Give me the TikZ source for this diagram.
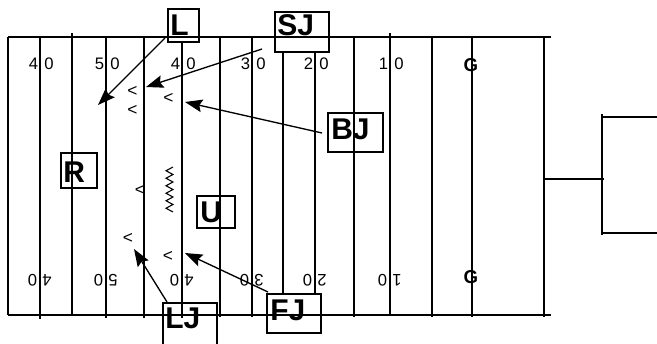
\documentclass[tikz,border=0pt]{standalone}
\usepackage{fontspec}
\setmainfont{Liberation Sans}
\usetikzlibrary{arrows.meta,fit}
\begin{document}
\begin{tikzpicture}[x=0.75pt,y=-0.75pt,
  field/.style={line width=1.35pt},
  thinline/.style={line width=0.8pt},
  lbox/.style={draw, line width=1.1pt, inner sep=0pt},
  lboxw/.style={lbox, fill=white},
  ltext/.style={font=\bfseries\fontsize{22.5}{22.5}\selectfont, inner sep=0pt, anchor=base west},
  yard/.style={font=\fontsize{12.5}{12.5}\selectfont, inner sep=0pt},
  goal/.style={font=\bfseries\fontsize{14}{14}\selectfont, inner sep=0pt},
  chev/.style={font=\fontsize{13}{13}\selectfont, inner sep=0pt},
  pointer/.style={line width=1pt, -{Stealth[length=13pt,width=9.5pt,inset=2pt]}},
]
\useasboundingbox (0,0) rectangle (657,343);

% yard lines (x / top / bottom)
\foreach \x/\t/\b in {8/37/315, 40/37/319, 72/33/315, 106/37/318, 144/37/318,
                      182/37/318, 220/37/317, 252/37/317, 283/37/293, 354/37/317,
                      390/33/315, 432/37/317, 472/37/317, 544/37/317}
  \draw[field] (\x,\t) -- (\x,\b);

% player boxes
\node[lboxw, fit={(168,9) (199,42)}]   (Lbox)  {};
\node[lboxw, fit={(275,12) (329,52)}]  (SJbox) {};
\node[lbox,  fit={(328,113) (383,152)}] (BJbox) {};
\node[lbox,  fit={(61,153) (97,188)}]  (Rbox)  {};
\node[lbox,  fit={(197,196) (235,228)}] (Ubox) {};
\node[lbox,  fit={(163,303) (217,352)}] (LJbox) {};
\node[lboxw, fit={(267,294) (321,333)}] (FJbox) {};

\node[ltext] (Lt)  at (170,35)  {L};
\node[ltext] (SJt) at (277,35)  {SJ};
\node[ltext] (BJt) at (331,139) {BJ};
\node[ltext] (Rt)  at (63,182)  {R};
\node[ltext] (Ut)  at (200,222) {U};
\node[ltext] (LJt) at (165,328) {LJ};
\node[ltext] (FJt) at (270,320) {FJ};

% sidelines
\draw[field] (8,37) -- (551,37);
\draw[field] (8,315) -- (551,315);

% link between SJ and FJ
\coordinate (linkx) at (315,0);
\draw[thinline] (SJbox.south -| linkx) -- (FJbox.north -| linkx);

% yard numbers
\foreach \x/\a in {40/4, 106/5, 182/4, 252/3, 315/2, 390/1} {
  \node[yard, anchor=east] (nt\x a) at (\x-1.5,63.5) {\a};
  \node[yard, anchor=west] (nt\x b) at (\x+4,63.5) {0};
  \node[yard, rotate=180, anchor=west] (nb\x b) at (\x-2.5,280.5) {0};
  \node[yard, rotate=180, anchor=east] (nb\x a) at (\x+2,280.5) {\a};
}
\node[goal] (gt) at (471,65)  {G};
\node[goal] (gb) at (471,277) {G};

% defenders
\node[chev] (c1) at (132.5,91)  {<};
\node[chev] (c2) at (132.5,110.5) {<};
\node[chev] (c3) at (168.5,98)  {<};
\node[chev] (c4) at (140,190)   {<};
\node[chev] (c5) at (128,238)   {<};
\node[chev] (c6) at (168,256)   {<};

% zigzag
\draw[thinline, line join=miter]
  (173,167) -- (166,170.75) -- (173,174.5) -- (166,178.25) -- (173,182)
  -- (166,185.75) -- (173,189.5) -- (166,193.25) -- (173,197)
  -- (166,200.75) -- (173,204.5) -- (166,208.25) -- (173,212);

% pointers
\coordinate (Ltail)  at (165,38);  \coordinate (Ltip)  at (98,105);
\coordinate (SJtail) at (262,49);  \coordinate (SJtip) at (146,87);
\coordinate (BJtail) at (322,133); \coordinate (BJtip) at (185,102);
\coordinate (LJtail) at (167,302); \coordinate (LJtip) at (134,249);
\coordinate (FJtail) at (268,292); \coordinate (FJtip) at (185,253);
\draw[pointer] (Ltail) -- (Ltip);
\draw[pointer] (SJtail) -- (SJtip);
\draw[pointer] (BJtail) -- (BJtip);
\draw[pointer] (LJtail) -- (LJtip);
\draw[pointer] (FJtail) -- (FJtip);

% bracket on the right
\draw[field] (544,179) -- (604,179);
\draw[field] (602,114) -- (602,235);
\draw[field] (602,117) -- (657,117);
\draw[field] (602,233) -- (657,233);
\end{tikzpicture}
\end{document}
